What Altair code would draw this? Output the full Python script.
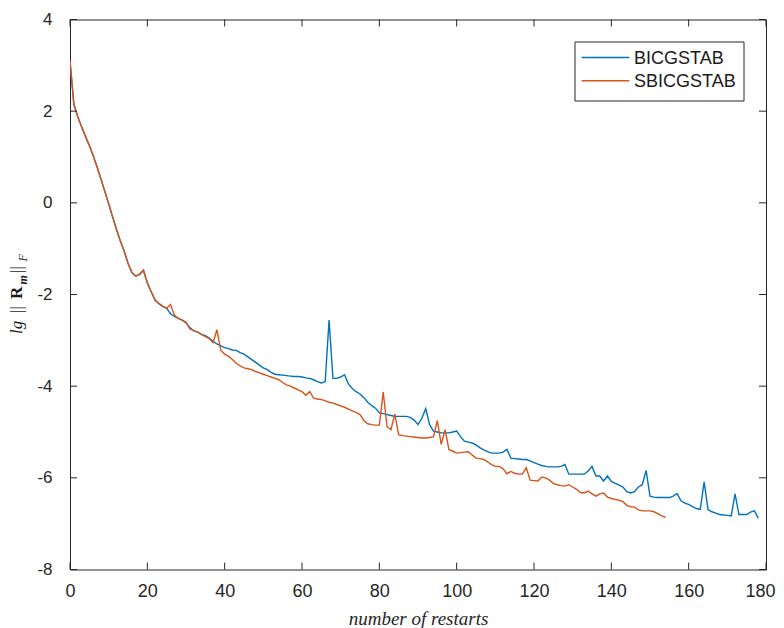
import altair as alt
import pandas as pd

# ---------------- data ----------------
series = ["BICGSTAB", "SBICGSTAB"]
colors = ["#0072BD", "#D95319"]
x_ticks = [0, 20, 40, 60, 80, 100, 120, 140, 160, 180]
y_ticks = [-8, -6, -4, -2, 0, 2, 4]

# shared start, restarts 0..25
common = [3.1, 2.15, 1.88, 1.66, 1.45, 1.25, 1.03, 0.78, 0.52, 0.25,
          -0.02, -0.3, -0.57, -0.83, -1.05, -1.32, -1.52, -1.6, -1.56, -1.47,
          -1.75, -1.94, -2.12, -2.2, -2.26, -2.3]

# BICGSTAB, restarts 26..178
bicg_tail = [-2.42, -2.48, -2.52, -2.56, -2.62, -2.72, -2.79, -2.82, -2.87, -2.9,
             -2.95, -3.02, -3.08, -3.12, -3.16, -3.18, -3.21, -3.22, -3.27, -3.3,
             -3.36, -3.42, -3.48, -3.54, -3.6, -3.64, -3.7, -3.74, -3.75, -3.76,
             -3.77, -3.78, -3.79, -3.79, -3.8, -3.82, -3.83, -3.86, -3.9, -3.93,
             -3.9, -2.56, -3.83, -3.83, -3.8, -3.75, -3.95, -4.05, -4.12, -4.17,
             -4.25, -4.35, -4.42, -4.48, -4.58, -4.6, -4.62, -4.64, -4.66, -4.66,
             -4.66, -4.66, -4.68, -4.74, -4.84, -4.7, -4.49, -4.84, -4.98, -5.0,
             -5.02, -5.02, -5.02, -5.0, -4.98, -5.1, -5.2, -5.22, -5.24, -5.28,
             -5.34, -5.39, -5.43, -5.46, -5.46, -5.46, -5.44, -5.38, -5.57, -5.58,
             -5.59, -5.6, -5.6, -5.63, -5.67, -5.7, -5.73, -5.75, -5.76, -5.76,
             -5.76, -5.75, -5.71, -5.92, -5.92, -5.92, -5.92, -5.92, -5.85, -5.75,
             -5.96, -5.96, -6.07, -5.96, -6.08, -6.12, -6.16, -6.2, -6.3, -6.33,
             -6.3, -6.2, -6.15, -5.84, -6.4, -6.42, -6.43, -6.43, -6.43, -6.43,
             -6.4, -6.34, -6.5, -6.55, -6.58, -6.63, -6.67, -6.69, -6.09, -6.69,
             -6.74, -6.77, -6.8, -6.81, -6.82, -6.83, -6.35, -6.8, -6.8, -6.8,
             -6.75, -6.72, -6.88]

# SBICGSTAB, restarts 26..154
sbicg_tail = [-2.22, -2.45, -2.52, -2.56, -2.6, -2.75, -2.79, -2.82, -2.87, -2.92,
              -2.96, -3.05, -2.77, -3.22, -3.3, -3.35, -3.42, -3.5, -3.56, -3.6,
              -3.62, -3.64, -3.68, -3.71, -3.74, -3.77, -3.8, -3.83, -3.86, -3.92,
              -3.97, -4.0, -4.04, -4.08, -4.12, -4.2, -4.12, -4.26, -4.28, -4.29,
              -4.32, -4.35, -4.37, -4.4, -4.43, -4.46, -4.5, -4.54, -4.57, -4.62,
              -4.75, -4.82, -4.84, -4.85, -4.85, -4.13, -4.88, -4.95, -4.61, -5.06,
              -5.08, -5.09, -5.1, -5.11, -5.12, -5.13, -5.13, -5.12, -5.1, -4.75,
              -5.27, -4.95, -5.38, -5.42, -5.46, -5.45, -5.44, -5.43, -5.5, -5.57,
              -5.58, -5.6, -5.65, -5.71, -5.75, -5.75, -5.8, -5.91, -5.86, -5.9,
              -5.92, -5.92, -5.78, -6.05, -6.06, -6.07, -5.98, -6.0, -6.05, -6.12,
              -6.15, -6.17, -6.18, -6.15, -6.2, -6.25, -6.32, -6.33, -6.29, -6.35,
              -6.4, -6.35, -6.33, -6.42, -6.45, -6.47, -6.49, -6.52, -6.6, -6.63,
              -6.64, -6.7, -6.72, -6.72, -6.72, -6.74, -6.78, -6.83, -6.86]

# ---------------- build tables ----------------
W, H = 696, 550
AX = "#262626"

rows = []
for name, tail in zip(series, [bicg_tail, sbicg_tail]):
    vals = common + tail
    for i, v in enumerate(vals):
        rows.append({"restart": i, "value": v, "method": name})
df = pd.DataFrame(rows)

xscale = alt.Scale(domain=[0, 180], nice=False, zero=False)
yscale = alt.Scale(domain=[-8, 4], nice=False, zero=False)
cscale = alt.Scale(domain=series, range=colors)

xa = alt.Axis(values=x_ticks, ticks=False, domain=False, grid=False,
              labelFont="Liberation Sans", labelFontSize=18, labelColor=AX,
              labelPadding=13, labelFlush=False,
              labelOffset={"condition": {"test": "datum.value == 180", "value": -6},
                           "value": 0},
              title="number of restarts",
              titleFont="Liberation Serif", titleFontStyle="italic",
              titleFontWeight="normal", titleFontSize=19, titleColor=AX,
              titleBaseline="alphabetic", titleY=55)
ya = alt.Axis(values=y_ticks, ticks=False, domain=False, grid=False,
              labelFont="Liberation Sans", labelFontSize=17, labelColor=AX,
              labelPadding=18, labelFlush=False,
              labelExpr="'' + datum.value", title="")

base = alt.Chart(df)

def line_layer(name):
    return base.transform_filter(alt.datum.method == name).mark_line(
        strokeWidth=1.4, clip=True
    ).encode(
        x=alt.X("restart:Q", scale=xscale, axis=xa),
        y=alt.Y("value:Q", scale=yscale, axis=ya),
        color=alt.Color("method:N", scale=cscale, legend=None),
    )

lines = [line_layer(series[0]), line_layer(series[1])]

# inward ticks on all four sides
xt = alt.Chart(pd.DataFrame({"restart": x_ticks}))
yt = alt.Chart(pd.DataFrame({"value": y_ticks}))
TL = 7
tick_layers = [
    xt.mark_rule(color=AX, strokeWidth=1).encode(
        x=alt.X("restart:Q", scale=xscale, axis=xa), y=alt.value(H), y2=alt.value(H - TL)),
    xt.mark_rule(color=AX, strokeWidth=1).encode(
        x=alt.X("restart:Q", scale=xscale, axis=xa), y=alt.value(0), y2=alt.value(TL)),
    yt.mark_rule(color=AX, strokeWidth=1).encode(
        y=alt.Y("value:Q", scale=yscale, axis=ya), x=alt.value(0), x2=alt.value(TL)),
    yt.mark_rule(color=AX, strokeWidth=1).encode(
        y=alt.Y("value:Q", scale=yscale, axis=ya), x=alt.value(W), x2=alt.value(W - TL)),
]

# legend (manual, MATLAB style)
one = alt.Chart(pd.DataFrame({"a": [0]}))
leg_x0, leg_x1, leg_y0, leg_y1 = 505, 674, 22.5, 81.5
legend_layers = [
    one.mark_rect(fill="white", stroke=AX, strokeWidth=1).encode(
        x=alt.value(leg_x0), x2=alt.value(leg_x1),
        y=alt.value(leg_y0), y2=alt.value(leg_y1)),
]
for i, (name, col) in enumerate(zip(series, colors)):
    yy = 38.0 + i * 23.3
    legend_layers.append(
        one.mark_rule(color=col, strokeWidth=1.4).encode(
            x=alt.value(511.7), x2=alt.value(559.3), y=alt.value(yy)))
    legend_layers.append(
        alt.Chart(pd.DataFrame({"label": [name]})).mark_text(
            align="left", baseline="middle", font="Liberation Sans",
            fontSize=18, color="#1a1a1a").encode(
            text="label:N", x=alt.value(564), y=alt.value(yy + 1.5)))

# y-axis title: lg||R_m||_F (rotated pieces)
title_pieces = [
    ("lg", 314.5, -48, 17, "italic", "normal"),
    ("||", 293.5, -48, 17, "normal", "normal"),
    ("R", 279.5, -48, 17, "normal", "bold"),
    ("m", 265.0, -43, 12, "italic", "bold"),
    ("||", 253.5, -48, 17, "normal", "normal"),
    ("F", 242.0, -43, 12, "italic", "normal"),
]
title_layers = []
for txt, yy, xx, fs, style, weight in title_pieces:
    title_layers.append(
        alt.Chart(pd.DataFrame({"s": [txt]})).mark_text(
            align="left", baseline="alphabetic", angle=270,
            font="Liberation Serif", fontSize=fs, fontStyle=style,
            fontWeight=weight, color="#1a1a1a").encode(
            text="s:N", x=alt.value(xx), y=alt.value(yy)))

chart = alt.layer(*lines, *tick_layers, *legend_layers, *title_layers).properties(
    width=W, height=H,
    autosize=alt.AutoSizeParams(type="none"),
    padding={"left": 62, "top": 11.5, "right": 10, "bottom": 58},
    background="white",
).configure_view(stroke=AX, strokeWidth=1)

chart.save("out.html", embed_options={"renderer": "svg", "actions": False})
